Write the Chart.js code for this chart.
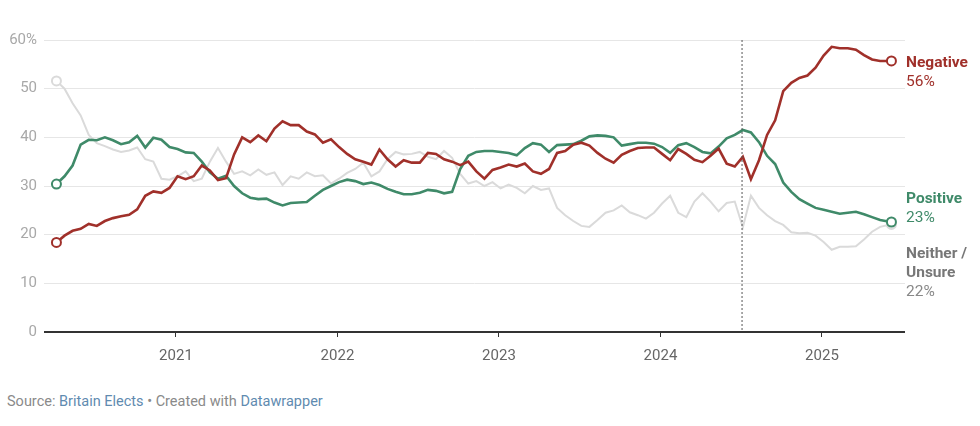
<!DOCTYPE html>
<html>
<head>
<meta charset="utf-8">
<script src="https://cdn.jsdelivr.net/npm/chart.js@4.4.0/dist/chart.umd.min.js"></script>
<style>
  body { margin: 0; background: #fff; font-family: Roboto, "Noto Sans", sans-serif; }
  #wrap { position: relative; width: 980px; height: 426px; }
  #chart { position: absolute; left: 0; top: 0; }
  #source { position: absolute; left: 7px; top: 393px; font-size: 14.5px; color: #8a8a8a; }
  #source span { color: #5f8bb0; }
</style>
</head>
<body>
<div id="wrap">
  <canvas id="chart" width="980" height="376"></canvas>
  <div id="source">Source: <span>Britain Elects</span> • Created with <span>Datawrapper</span></div>
</div>
<script>
// dates as decimal years
const dates = [
  2020.26, 2020.31, 2020.36, 2020.41, 2020.46, 2020.51, 2020.56, 2020.61, 2020.66, 2020.71,
  2020.76, 2020.81, 2020.86, 2020.91, 2020.96, 2021.01, 2021.06, 2021.11, 2021.16, 2021.21,
  2021.26, 2021.31, 2021.36, 2021.41, 2021.46, 2021.51, 2021.56, 2021.61, 2021.66, 2021.71,
  2021.76, 2021.81, 2021.86, 2021.91, 2021.96, 2022.01, 2022.06, 2022.11, 2022.16, 2022.21,
  2022.26, 2022.31, 2022.36, 2022.41, 2022.46, 2022.51, 2022.56, 2022.61, 2022.66, 2022.71,
  2022.76, 2022.81, 2022.86, 2022.91, 2022.96, 2023.01, 2023.06, 2023.11, 2023.16, 2023.21,
  2023.26, 2023.31, 2023.36, 2023.41, 2023.46, 2023.51, 2023.56, 2023.61, 2023.66, 2023.71,
  2023.76, 2023.81, 2023.86, 2023.91, 2023.96, 2024.01, 2024.06, 2024.11, 2024.16, 2024.21,
  2024.26, 2024.31, 2024.36, 2024.41, 2024.46, 2024.51, 2024.56, 2024.61, 2024.66, 2024.71,
  2024.76, 2024.81, 2024.86, 2024.91, 2024.96, 2025.01, 2025.06, 2025.11, 2025.16, 2025.21,
  2025.26, 2025.31, 2025.36, 2025.41, 2025.43
];

const negative = [
  18.4, 19.8, 20.8, 21.2, 22.2, 21.8, 22.8, 23.4, 23.8, 24.1,
  25.2, 28.0, 28.9, 28.6, 29.6, 32.0, 31.4, 32.0, 34.2, 33.2,
  31.2, 31.6, 36.5, 40.0, 39.0, 40.4, 39.2, 41.8, 43.3, 42.5,
  42.5, 41.2, 40.6, 38.9, 39.6, 38.0, 36.6, 35.5, 35.0, 34.4,
  37.5, 35.5, 34.0, 35.3, 34.8, 34.8, 36.8, 36.6, 35.5, 35.0,
  34.3, 35.0, 33.0, 31.5, 33.3, 33.8, 34.4, 34.0, 34.6, 33.0,
  32.5, 33.5, 36.8, 37.2, 38.5, 38.9, 38.3, 36.8, 35.6, 34.8,
  36.4, 37.2, 37.8, 37.9, 37.9, 36.6, 35.3, 37.6, 36.6, 35.4,
  34.9, 36.2, 37.7, 34.6, 34.0, 36.0, 31.4, 35.3, 40.5, 43.5,
  49.5, 51.2, 52.2, 52.7, 54.3, 56.8, 58.6, 58.3, 58.3, 58.0,
  56.9, 56.0, 55.7, 55.7, 55.7
];

const positive = [
  30.4, 32.0, 34.2, 38.5, 39.5, 39.4, 40.0, 39.4, 38.6, 39.0,
  40.3, 37.9, 39.9, 39.5, 38.0, 37.6, 36.9, 36.8, 35.0, 32.8,
  31.5, 32.1, 30.0, 28.5, 27.6, 27.3, 27.4, 26.6, 26.0, 26.5,
  26.6, 26.7, 28.0, 29.2, 30.0, 30.8, 31.3, 31.0, 30.4, 30.7,
  30.2, 29.4, 28.8, 28.3, 28.3, 28.6, 29.2, 29.0, 28.5, 28.8,
  33.5, 36.2, 37.0, 37.2, 37.2, 37.0, 36.8, 36.3, 37.8, 38.8,
  38.5, 37.0, 38.4, 38.5, 38.6, 39.3, 40.2, 40.4, 40.3, 40.0,
  38.3, 38.6, 38.9, 38.9, 38.7, 38.0, 36.8, 38.4, 38.8, 38.0,
  37.0, 36.7, 38.1, 39.8, 40.5, 41.5, 41.0, 39.0, 36.2, 34.5,
  30.7, 28.8, 27.3, 26.4, 25.5, 25.1, 24.7, 24.3, 24.5, 24.7,
  24.2, 23.6, 23.0, 22.7, 22.6
];

const neither = [
  51.6, 50.0, 47.0, 44.5, 40.5, 38.8, 38.2, 37.5, 37.0, 37.3,
  37.9, 35.5, 35.0, 31.5, 31.3, 32.0, 33.0, 31.0, 31.5, 35.0,
  37.8, 35.0, 32.5, 33.0, 32.2, 33.4, 32.3, 32.8, 30.2, 32.0,
  31.5, 32.8, 32.0, 32.2, 30.5, 31.5, 32.7, 33.5, 34.8, 32.0,
  33.0, 35.5, 37.0, 36.5, 36.6, 37.0, 36.0, 35.5, 37.2, 35.8,
  32.5, 30.5, 31.0, 30.0, 30.8, 29.5, 30.3, 29.6, 28.5, 30.0,
  29.2, 29.5, 25.5, 24.0, 22.8, 21.8, 21.6, 23.0, 24.5, 25.0,
  26.0, 24.6, 24.0, 23.3, 24.5, 26.4, 28.0, 24.5, 23.6, 26.8,
  28.5, 26.8, 24.8, 26.5, 26.8, 21.5, 28.0, 25.5, 24.0, 22.8,
  22.0, 20.5, 20.3, 20.4, 19.8, 18.5, 16.9, 17.5, 17.5, 17.6,
  19.0, 20.6, 21.6, 22.0, 22.1
];

const yearTicks = [2021, 2022, 2023, 2024, 2025];
const yTicks = [0, 10, 20, 30, 40, 50, 60];
const electionDate = 2024.505;

const RED = '#a0302a';
const GREEN = '#3f8a69';
const GREY = '#dadada';

function series(values) {
  return values.map((v, i) => ({ x: dates[i], y: v }));
}

function endPoints(ctx) {
  const n = ctx.dataset.data.length;
  return (ctx.dataIndex === 0 || ctx.dataIndex === n - 1) ? 4.5 : 0;
}

// dotted line for the election + end labels
const extras = {
  id: 'extras',
  afterDatasetsDraw(chart) {
    const { ctx, chartArea, scales } = chart;
    const x = scales.x.getPixelForValue(electionDate);
    ctx.save();
    ctx.strokeStyle = '#555';
    ctx.lineWidth = 1;
    ctx.setLineDash([2, 2]);
    ctx.beginPath();
    ctx.moveTo(x, chartArea.top);
    ctx.lineTo(x, chartArea.bottom);
    ctx.stroke();
    ctx.restore();
  },
  afterDraw(chart) {
    const { ctx, chartArea, scales } = chart;
    const lx = chartArea.right + 1;
    const last = a => scales.y.getPixelForValue(a[a.length - 1]);
    const blocks = [
      { y: last(negative) + 2, color: '#a0302a', lines: ['Negative'], value: '56%' },
      { y: last(positive) - 23, color: '#3f8a69', lines: ['Positive'], value: '23%' },
      { y: last(neither) + 30, color: '#777', lines: ['Neither /', 'Unsure'], value: '22%' }
    ];
    ctx.save();
    ctx.textBaseline = 'middle';
    ctx.textAlign = 'left';
    blocks.forEach(b => {
      let y = b.y;
      ctx.fillStyle = b.color;
      ctx.font = 'bold 15.5px Roboto';
      b.lines.forEach(t => { ctx.fillText(t, lx, y); y += 18.8; });
      ctx.font = '15.5px Roboto';
      ctx.fillStyle = b.color === '#777' ? '#888' : b.color;
      ctx.fillText(b.value, lx, y);
    });
    ctx.restore();
  }
};

new Chart(document.getElementById('chart'), {
  type: 'line',
  data: {
    datasets: [
      {
        label: 'Negative',
        data: series(negative),
        borderColor: RED,
        borderWidth: 2.6,
        pointRadius: endPoints,
        pointBorderWidth: 2,
        pointBorderColor: RED,
        pointBackgroundColor: '#fff'
      },
      {
        label: 'Positive',
        data: series(positive),
        borderColor: GREEN,
        borderWidth: 2.6,
        pointRadius: endPoints,
        pointBorderWidth: 2,
        pointBorderColor: GREEN,
        pointBackgroundColor: '#fff'
      },
      {
        label: 'Neither / Unsure',
        data: series(neither),
        borderColor: GREY,
        borderWidth: 2,
        pointRadius: endPoints,
        pointBorderWidth: 2,
        pointBorderColor: GREY,
        pointBackgroundColor: '#fff'
      }
    ]
  },
  options: {
    responsive: false,
    animation: false,
    events: [],
    layout: { padding: { top: 40, right: 75, bottom: 0, left: 0 } },
    plugins: {
      legend: { display: false },
      tooltip: { enabled: false }
    },
    elements: { line: { tension: 0 } },
    scales: {
      x: {
        type: 'linear',
        min: 2020.183,
        max: 2025.514,
        afterBuildTicks: s => { s.ticks = yearTicks.map(v => ({ value: v })); },
        afterFit: s => { s.height = 44; },
        grid: { drawOnChartArea: false, drawTicks: true, tickLength: 5, color: '#333' },
        border: { display: false },
        ticks: {
          padding: 10,
          color: '#666',
          font: { family: 'Roboto', size: 15 },
          callback: v => String(v)
        }
      },
      y: {
        min: 0,
        max: 60,
        afterBuildTicks: s => { s.ticks = yTicks.map(v => ({ value: v })); },
        afterFit: s => { s.width = 44; },
        border: { display: false },
        grid: {
          drawTicks: false,
          color: c => c.tick && c.tick.value === 0 ? '#333' : '#e6e6e6',
          lineWidth: c => c.tick && c.tick.value === 0 ? 2 : 1
        },
        ticks: {
          padding: 7,
          color: '#a8a8a8',
          font: { family: 'Roboto', size: 15 },
          callback: v => v === 60 ? '60%' : String(v)
        }
      }
    }
  },
  plugins: [extras]
});
</script>
</body>
</html>
